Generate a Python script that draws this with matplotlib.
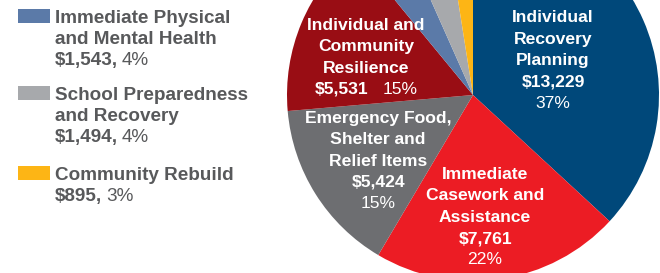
import matplotlib
matplotlib.use('Agg')
import matplotlib.pyplot as plt

# Datos del gráfico (orden horario desde arriba)
categorias = ['Individual\nRecovery\nPlanning',
              'Immediate\nCasework and\nAssistance',
              'Emergency Food,\nShelter and\nRelief Items',
              'Individual and\nCommunity\nResilience',
              'Immediate Physical\nand Mental Health',
              'School Preparedness\nand Recovery',
              'Community Rebuild']
montos = [13229, 7761, 5424, 5531, 1543, 1494, 895]
porcentajes = ['37%', '22%', '15%', '15%', '4%', '4%', '3%']
colores = ['#00487A', '#EC1C24', '#6D6E71', '#990D14', '#5B7AA8', '#A7A9AC', '#FDB515']

plt.rcParams['font.family'] = ['Liberation Sans', 'DejaVu Sans']

W, H = 660, 273
cx, cy, r = 473, 95, 186          # centro y radio del pastel en píxeles

fig = plt.figure(figsize=(W / 100, H / 100), dpi=100)
ax = fig.add_axes([0, 0, 1, 1])
ax.pie(montos, colors=colores, startangle=90, counterclock=False,
       radius=1, wedgeprops=dict(linewidth=0))
ax.set_xlim(-cx / r, (W - cx) / r)
ax.set_ylim((cy - H) / r, cy / r)
ax.set_aspect('auto')
ax.axis('off')

fs = 12.6
lh = 21.3 / r   # interlineado en unidades del radio

def bloque(x, y, nombre, monto, pct, junto=False):
    lineas = nombre.split('\n')
    n = len(lineas) + (1 if junto else 2)
    y0 = y + (n - 1) * lh / 2
    for i, t in enumerate(lineas):
        ax.text(x, y0 - i * lh, t, color='white', fontsize=fs, fontweight='bold',
                ha='center', va='center')
    yd = y0 - len(lineas) * lh
    if junto:
        ax.text(x + 2 / r, yd, f'${monto:,}', color='white', fontsize=fs,
                fontweight='bold', ha='right', va='center')
        ax.text(x + 17 / r, yd, pct, color='white', fontsize=fs, ha='left', va='center')
    else:
        ax.text(x, yd, f'${monto:,}', color='white', fontsize=fs,
                fontweight='bold', ha='center', va='center')
        ax.text(x, yd - lh, pct, color='white', fontsize=fs, ha='center', va='center')

# posiciones de las etiquetas dentro del pastel (unidades del radio)
pos = [(0.43, 0.186), (0.065, -0.657), (-0.51, -0.355), (-0.575, 0.202)]
for i, (x, y) in enumerate(pos):
    bloque(x, y, categorias[i], montos[i], porcentajes[i], junto=(i == 3))

# leyenda manual a la izquierda
gris = '#58595B'
fs_ley = 13.6
tops = [9, 86, 166]
for k, top in enumerate(tops):
    i = 4 + k
    y1 = (cy - top) / r
    y2 = (cy - top - 14) / r
    ax.add_patch(plt.Rectangle(((18 - cx) / r, y2), 32 / r, y1 - y2,
                               color=colores[i], lw=0))
    lineas = categorias[i].split('\n')
    xt = (55 - cx) / r
    for j, t in enumerate(lineas):
        ax.text(xt, (cy - top - 13.8 - j * 21) / r, t, color=gris, fontsize=fs_ley,
                fontweight='bold', ha='left', va='baseline')
    yd = (cy - top - 13.8 - len(lineas) * 21) / r
    tb = ax.text(xt, yd, f'${montos[i]:,},', color=gris, fontsize=fs_ley,
                 fontweight='bold', ha='left', va='baseline')
    fig.canvas.draw()
    bb = tb.get_window_extent()
    ax.text(bb.x1 / r - cx / r + 4 / r, yd, porcentajes[i], color=gris, fontsize=fs_ley,
            ha='left', va='baseline')

fig.savefig('out.png', dpi=100)
